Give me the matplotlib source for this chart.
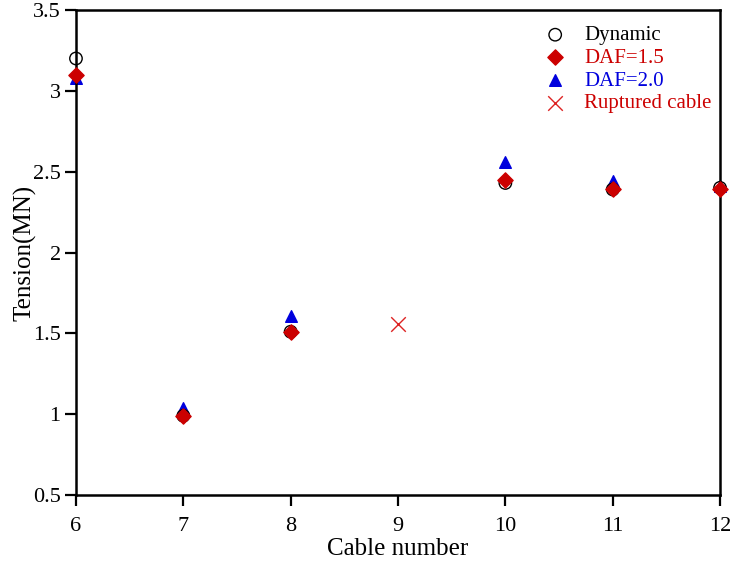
import matplotlib
matplotlib.use("Agg")
import matplotlib.pyplot as plt

plt.rcParams['font.family'] = ['Liberation Serif', 'DejaVu Serif']

cables = [6, 7, 8, 10, 11, 12]
dynamic = [3.20, 0.99, 1.51, 2.43, 2.39, 2.40]
daf15 = [3.10, 0.99, 1.51, 2.45, 2.39, 2.39]
daf20 = [3.08, 1.04, 1.61, 2.56, 2.44, 2.41]
ruptured_x = [9]
ruptured_y = [1.555]
xticks = [6, 7, 8, 9, 10, 11, 12]
yticks = [0.5, 1, 1.5, 2, 2.5, 3, 3.5]
ytick_labels = ['0.5', '1', '1.5', '2', '2.5', '3', '3.5']

fig = plt.figure(figsize=(7.34, 5.64), dpi=100)
ax = fig.add_axes([0.1035, 0.1223, 0.8775, 0.86])

ax.scatter(cables, dynamic, s=80, facecolors='none', edgecolors='black', linewidths=1.0,
           label='Dynamic', clip_on=False, zorder=3)
ax.scatter(cables, daf15, s=60, marker='D', color='#cc0000', label='DAF=1.5',
           clip_on=False, zorder=4)
ax.scatter(cables, daf20, s=70, marker='^', color='#0000dd', label='DAF=2.0',
           clip_on=False, zorder=2)
ax.scatter(ruptured_x, ruptured_y, s=110, marker='x', color='#dd2222', linewidths=1.0,
           label='Ruptured cable', clip_on=False, zorder=3)

ax.set_xlim(6, 12)
ax.set_ylim(0.5, 3.5)
ax.set_xticks(xticks)
ax.set_yticks(yticks)
ax.set_yticklabels(ytick_labels)
ax.tick_params(direction='out', length=8, width=1.6, labelsize=16)
ax.tick_params(axis='x', pad=8)
ax.tick_params(axis='y', pad=3)
for s in ax.spines.values():
    s.set_linewidth(1.8)
ax.set_xlabel('Cable number', fontsize=18, labelpad=1)
ax.set_ylabel('Tension(MN)', fontsize=18, labelpad=-3)

leg = ax.legend(loc='upper right', bbox_to_anchor=(1.0, 0.985), frameon=False, fontsize=15,
                handletextpad=0.4, labelspacing=0.15, borderaxespad=0.0, scatterpoints=1)
colors = ['black', '#cc0000', '#0000dd', '#cc0000']
for t, c in zip(leg.get_texts(), colors):
    t.set_color(c)

fig.savefig('out.png', dpi=100)
